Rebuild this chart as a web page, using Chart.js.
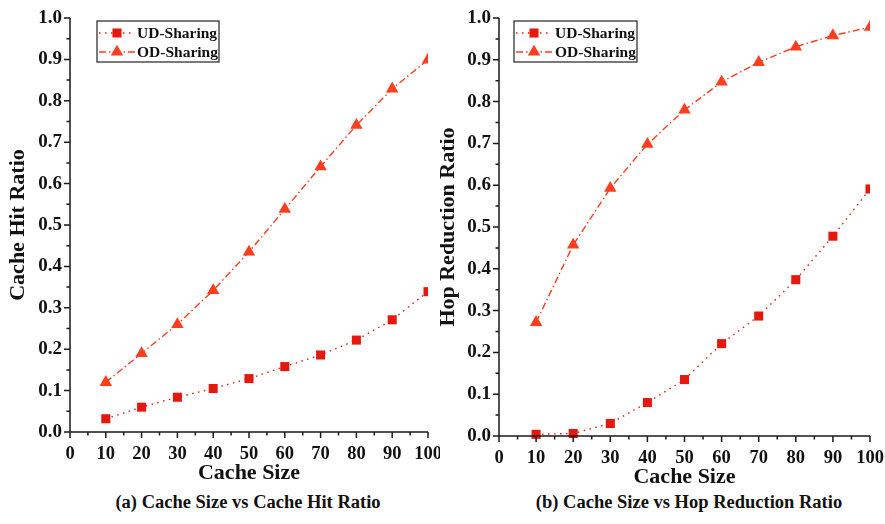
<!DOCTYPE html>
<html>
<head>
<meta charset="utf-8">
<script src="https://cdn.jsdelivr.net/npm/chart.js@4.4.1/dist/chart.umd.min.js"></script>
<style>
  body { margin: 0; background: #fff; }
  #wrap { position: relative; width: 885px; height: 524px; overflow: hidden; }
  .panel { position: absolute; top: 0; height: 490px; }
  .caption { position: absolute; top: 492px; line-height: 22px; font: bold 18.5px "Liberation Serif", "Times New Roman", serif; color: #111; text-align: center; white-space: nowrap; }
</style>
</head>
<body>
<div id="wrap">
  <div class="panel" style="left:0;width:440px"><canvas id="hitChart" width="440" height="490"></canvas></div>
  <div class="panel" style="left:440px;width:445px"><canvas id="hopChart" width="445" height="490"></canvas></div>
  <div class="caption" style="left:0;width:496px">(a) Cache Size vs Cache Hit Ratio</div>
  <div class="caption" style="left:489px;width:400px">(b) Cache Size vs Hop Reduction Ratio</div>
</div>
<script>
const cacheSizes = [10, 20, 30, 40, 50, 60, 70, 80, 90, 100];
const seriesNames = ['UD-Sharing', 'OD-Sharing'];

const udHitRatio = [0.032, 0.060, 0.084, 0.105, 0.129, 0.158, 0.186, 0.222, 0.271, 0.339];
const odHitRatio = [0.120, 0.190, 0.260, 0.342, 0.435, 0.538, 0.641, 0.741, 0.829, 0.899];

const udHopReduction = [0.004, 0.006, 0.030, 0.080, 0.135, 0.221, 0.287, 0.374, 0.478, 0.591];
const odHopReduction = [0.272, 0.457, 0.593, 0.698, 0.780, 0.847, 0.894, 0.931, 0.958, 0.978];

const FONT = '"Liberation Serif", "Times New Roman", serif';
const AXIS = '#1a1a1a';
const UD_COLOR = 'rgb(228, 24, 12)';
const OD_COLOR = 'rgb(255, 62, 32)';

Chart.defaults.font.family = FONT;
Chart.defaults.color = '#111';

// axis lines plus major/minor tick marks, drawn by hand so minors get their own length
const axisTicks = {
  id: 'axisTicks',
  afterDatasetsDraw(chart) {
    const { ctx, scales: { x, y } } = chart;
    ctx.save();
    ctx.strokeStyle = AXIS;
    ctx.lineWidth = 1.5;
    ctx.beginPath();
    ctx.moveTo(x.left, y.top);
    ctx.lineTo(x.left, y.bottom);
    ctx.lineTo(x.right, y.bottom);
    for (let v = 0; v <= 100; v += 5) {
      const px = x.getPixelForValue(v);
      ctx.moveTo(px, y.bottom);
      ctx.lineTo(px, y.bottom + (v % 10 === 0 ? 6 : 3.5));
    }
    for (let i = 0; i <= 20; i++) {
      const py = y.getPixelForValue(i * 0.05);
      ctx.moveTo(x.left, py);
      ctx.lineTo(x.left - (i % 2 === 0 ? 6 : 3.5), py);
    }
    ctx.stroke();
    ctx.restore();
  }
};

function drawMarker(ctx, style, r, cx, cy) {
  ctx.beginPath();
  if (style === 'rect') {
    const s = Math.SQRT1_2 * r;
    ctx.rect(cx - s, cy - s, 2 * s, 2 * s);
  } else {
    for (let k = 0; k < 3; k++) {
      const a = k * 2 * Math.PI / 3;
      ctx.lineTo(cx + Math.sin(a) * r, cy - Math.cos(a) * r);
    }
    ctx.closePath();
  }
  ctx.fill();
}

// boxed legend sitting inside the plot area, top-left
const insetLegend = {
  id: 'insetLegend',
  afterDraw(chart, args, opts) {
    const { ctx, chartArea } = chart;
    const x0 = chartArea.left + opts.offsetX;
    const y0 = chartArea.top + opts.offsetY;
    ctx.save();
    ctx.fillStyle = '#fff';
    ctx.fillRect(x0, y0, opts.width, 41);
    ctx.strokeStyle = '#222';
    ctx.lineWidth = 1.2;
    ctx.strokeRect(x0, y0, opts.width, 41);
    chart.data.datasets.forEach((ds, i) => {
      const cy = y0 + 12 + i * 19;
      ctx.strokeStyle = ds.borderColor;
      ctx.lineWidth = ds.borderWidth;
      ctx.setLineDash(ds.borderDash);
      ctx.beginPath();
      ctx.moveTo(x0 + 2, cy);
      ctx.lineTo(x0 + 38, cy);
      ctx.stroke();
      ctx.setLineDash([]);
      ctx.fillStyle = ds.pointBackgroundColor;
      drawMarker(ctx, ds.pointStyle, ds.pointRadius, x0 + 20, cy);
      ctx.fillStyle = '#111';
      ctx.font = 'bold 15.5px ' + FONT;
      ctx.textBaseline = 'middle';
      ctx.fillText(ds.label, x0 + opts.textX, cy + 1);
    });
    ctx.restore();
  }
};

function series(label, values, ud) {
  return {
    label: label,
    data: cacheSizes.map((c, i) => ({ x: c, y: values[i] })),
    borderColor: ud ? UD_COLOR : OD_COLOR,
    borderWidth: 1.4,
    borderDash: ud ? [1.5, 4.5] : [7, 3, 1.5, 3],
    pointStyle: ud ? 'rect' : 'triangle',
    pointRadius: ud ? 6.4 : 7.2,
    pointBackgroundColor: ud ? UD_COLOR : OD_COLOR,
    pointBorderWidth: 0,
    tension: 0,
    // markers at x = 100 get cut at the right edge of the plot
    clip: { left: false, top: false, right: 0, bottom: false }
  };
}

function makeChart(id, yTitle, udValues, odValues, geom) {
  return new Chart(document.getElementById(id), {
    type: 'line',
    data: {
      datasets: [
        series(seriesNames[0], udValues, true),
        series(seriesNames[1], odValues, false)
      ]
    },
    options: {
      responsive: false,
      animation: false,
      layout: { padding: { top: 18, right: geom.padRight, left: 0, bottom: 0 } },
      plugins: {
        legend: { display: false },
        tooltip: { enabled: false },
        insetLegend: geom.legend
      },
      scales: {
        x: {
          type: 'linear',
          min: 0,
          max: 100,
          afterFit(s) { s.height = geom.xHeight; s.paddingLeft = 0; s.paddingRight = 0; },
          grid: { display: false, drawTicks: false },
          border: { display: false },
          ticks: { stepSize: 10, padding: 11, maxRotation: 0, font: { size: 18.5, weight: 'bold' }, color: '#111' },
          title: { display: true, text: 'Cache Size', font: { size: 22, weight: 'bold', lineHeight: 1 }, color: '#111', padding: { top: 0, bottom: geom.xTitlePad } }
        },
        y: {
          min: 0,
          max: 1,
          afterFit(s) { s.width = geom.yWidth; s.paddingTop = 0; s.paddingBottom = 0; },
          grid: { display: false, drawTicks: false },
          border: { display: false },
          ticks: { stepSize: 0.1, padding: 8, font: { size: 19, weight: 'bold' }, color: '#111', callback: v => v.toFixed(1) },
          title: { display: true, text: yTitle, font: { size: 22, weight: 'bold', lineHeight: 1 }, color: '#111', padding: { top: geom.yTitlePad, bottom: 0 } }
        }
      }
    },
    plugins: [axisTicks, insetLegend]
  });
}

makeChart('hitChart', 'Cache Hit Ratio', udHitRatio, odHitRatio, {
  padRight: 12, xHeight: 58, yWidth: 70, xTitlePad: 6, yTitlePad: 7,
  legend: { offsetX: 27, offsetY: 3, width: 122, textX: 40 }
});

makeChart('hopChart', 'Hop Reduction Ratio', udHopReduction, odHopReduction, {
  padRight: 15, xHeight: 54, yWidth: 59, xTitlePad: 2, yTitlePad: -3,
  legend: { offsetX: 15, offsetY: 3, width: 123, textX: 41 }
});
</script>
</body>
</html>
